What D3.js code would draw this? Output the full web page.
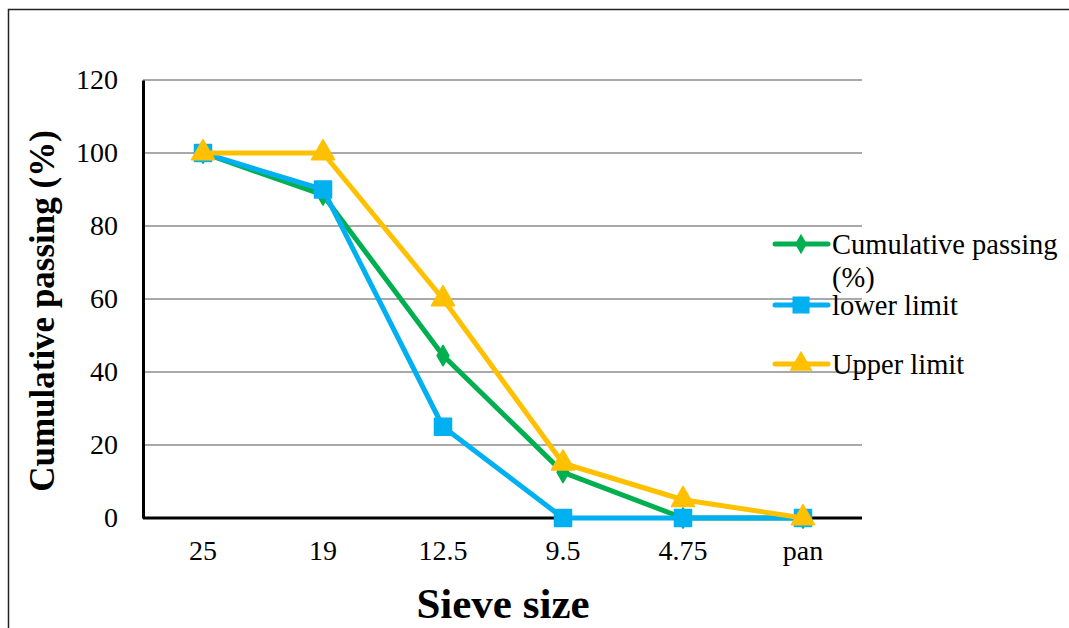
<!DOCTYPE html>
<html>
<head>
<meta charset="utf-8">
<script src="https://cdn.jsdelivr.net/npm/d3@7"></script>
<style>
  body { margin: 0; background: #fff; }
  svg text { font-family: "Liberation Serif", "Times New Roman", serif; fill: #000; }
</style>
</head>
<body>
<div id="chart"></div>
<script>
const sieves = ["25", "19", "12.5", "9.5", "4.75", "pan"];
const cumulative = [100, 88.5, 44.5, 12.5, 0, 0];
const lower = [100, 90, 25, 0, 0, 0];
const upper = [100, 100, 60, 15, 5, 0];
const yTicks = [0, 20, 40, 60, 80, 100, 120];

const series = [
  {name: "Cumulative passing (%)", lines: ["Cumulative passing", "(%)"], values: cumulative, color: "#00B050", shape: d3.symbolDiamond, size: 120},
  {name: "lower limit", lines: ["lower limit"], values: lower, color: "#00B0F0", shape: d3.symbolSquare, size: 290},
  {name: "Upper limit", lines: ["Upper limit"], values: upper, color: "#FFC000", shape: d3.symbolTriangle, size: 230}
];

const W = 1069, H = 628;
const svg = d3.select("#chart").append("svg")
    .attr("width", W)
    .attr("height", H);

// outer frame (top + left visible)
svg.append("path")
    .attr("d", `M8.5,${H} V9.5 H${W}`)
    .attr("fill", "none")
    .attr("stroke", "#222")
    .attr("stroke-width", 1.5);

const x = d3.scaleBand().domain(sieves).range([143, 863]);
const y = d3.scaleLinear().domain([0, 120]).range([518, 80]);

// gridlines
svg.append("g")
    .selectAll("line")
    .data(yTicks)
    .enter().append("line")
    .attr("x1", 143).attr("x2", 862)
    .attr("y1", d => y(d)).attr("y2", d => y(d))
    .attr("stroke", "#8c8c8c")
    .attr("stroke-width", 1.5);

// y axis
const yAxis = svg.append("g")
    .attr("transform", "translate(143,0)")
    .call(d3.axisLeft(y).tickValues(yTicks).tickSize(0).tickPadding(25));
yAxis.select(".domain").attr("stroke", "#000").attr("stroke-width", 3);
yAxis.selectAll("text").style("font-size", "28px").style("font-family", "Liberation Serif");

// x axis
const xAxis = svg.append("g")
    .attr("transform", "translate(0,518)")
    .call(d3.axisBottom(x).tickSize(0).tickPadding(22));
xAxis.select(".domain").attr("stroke", "#000").attr("stroke-width", 3)
    .attr("d", "M143,0H862");
xAxis.selectAll("text").style("font-size", "28px").style("font-family", "Liberation Serif");

// axis titles
svg.append("text")
    .attr("transform", "translate(54,311) rotate(-90)")
    .attr("text-anchor", "middle")
    .style("font-family", "Liberation Serif")
    .style("font-size", "35px")
    .style("font-weight", "bold")
    .text("Cumulative passing (%)");

svg.append("text")
    .attr("x", 503).attr("y", 618)
    .attr("text-anchor", "middle")
    .style("font-family", "Liberation Serif")
    .style("font-size", "43px")
    .style("font-weight", "bold")
    .text("Sieve size");

// lines + markers
const line = d3.line()
    .x((d, i) => x(sieves[i]) + x.bandwidth() / 2)
    .y(d => y(d));

series.forEach(s => {
  const g = svg.append("g");
  g.append("path")
      .datum(s.values)
      .attr("d", line)
      .attr("fill", "none")
      .attr("stroke", s.color)
      .attr("stroke-width", 5)
      .attr("stroke-linejoin", "round");
  g.selectAll("path.m")
      .data(s.values)
      .enter().append("path")
      .attr("class", "m")
      .attr("d", d3.symbol().type(s.shape).size(s.size))
      .attr("transform", (d, i) => `translate(${x(sieves[i]) + x.bandwidth() / 2},${y(d)})`)
      .attr("fill", s.color)
      .attr("stroke", s.color)
      .attr("stroke-width", 1.5)
      .attr("stroke-linejoin", "round");
});

// legend
const legendY = [244, 305, 364];
series.forEach((s, i) => {
  const g = svg.append("g").attr("transform", `translate(0,${legendY[i]})`);
  g.append("line")
      .attr("x1", 775).attr("x2", 828)
      .attr("stroke", s.color)
      .attr("stroke-width", 5)
      .attr("stroke-linecap", "round");
  g.append("path")
      .attr("d", d3.symbol().type(s.shape).size(s.size))
      .attr("transform", "translate(801,0)")
      .attr("fill", s.color);
  const t = g.append("text")
      .attr("x", 832).attr("y", 10)
      .style("font-size", "28.5px");
  s.lines.forEach((ln, k) => {
    t.append("tspan").attr("x", 832).attr("dy", k === 0 ? 0 : 33).text(ln);
  });
});
</script>
</body>
</html>
